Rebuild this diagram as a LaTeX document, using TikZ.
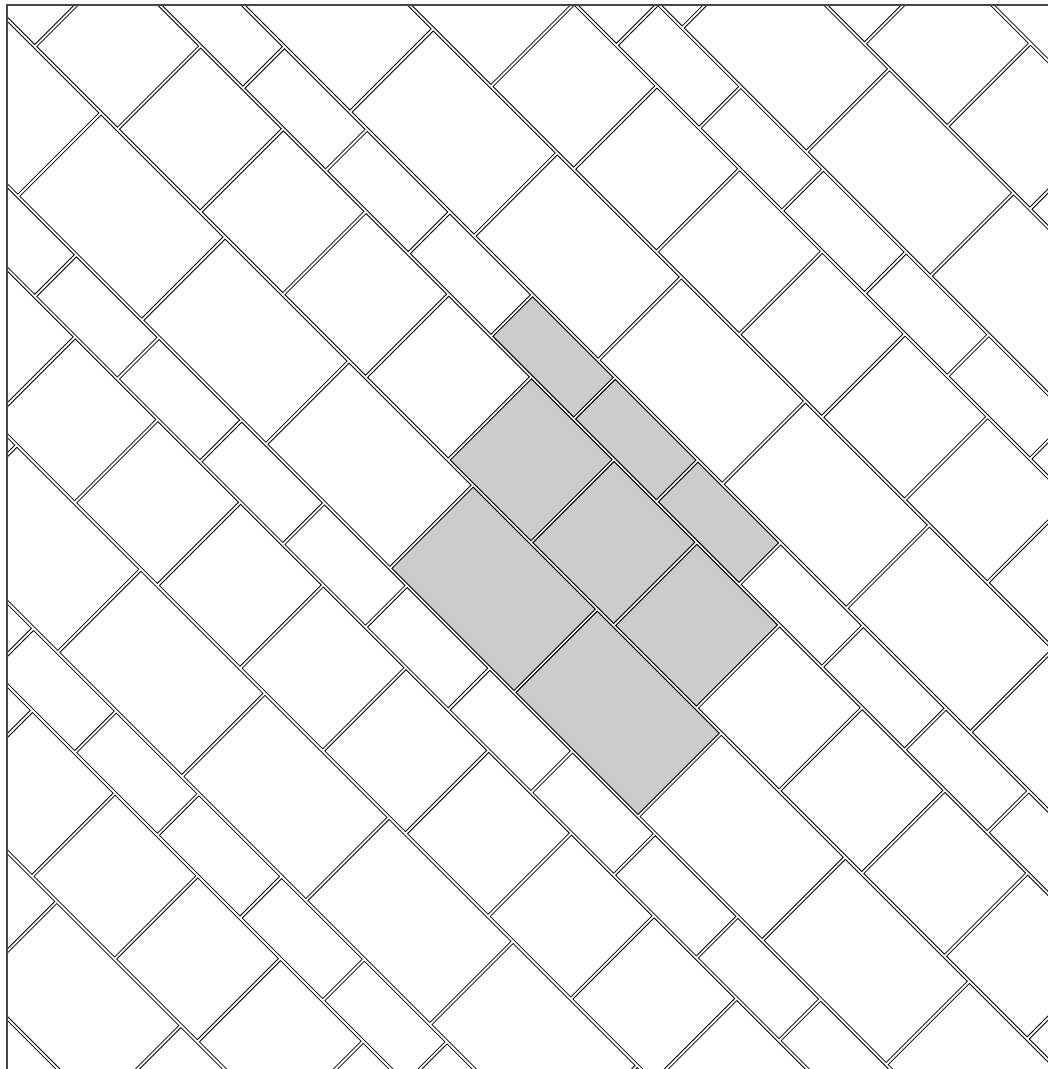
\documentclass[tikz,border=0pt]{standalone}
\usepackage{tikz}
\definecolor{tilegray}{RGB}{204,204,204}
\definecolor{framecol}{RGB}{70,70,70}
\newcommand\drawtile[5]{%
  \pgfmathsetmacro\tpa{#1+\ins}\pgfmathsetmacro\tpb{#2-\ins}%
  \pgfmathsetmacro\tqa{#3+\ins}\pgfmathsetmacro\tqb{#4-\ins}%
  \draw[#5] ({(\tpa+\tqa)/2},{(\tqa-\tpa)/2}) -- ({(\tpb+\tqa)/2},{(\tqa-\tpb)/2})
    -- ({(\tpb+\tqb)/2},{(\tqb-\tpb)/2}) -- ({(\tpa+\tqb)/2},{(\tqb-\tpa)/2}) -- cycle;%
}
\begin{document}
\begin{tikzpicture}[x=0.75pt,y=-0.75pt,
  tile/.style={draw=black,line width=0.6pt},
  graytile/.style={draw=black,line width=0.6pt,fill=tilegray}]
\useasboundingbox (0,0) rectangle (1047,1069);
\def\uP{83.26}\def\uQ{82.7}\def\cP{154.6}\def\ins{2.1}
\def\qC{827.3}\def\qB{81.3}\def\qA{710.2}
\begin{scope}
\clip (7,5) rectangle (1070,1090);
\foreach \k in {-3,...,2} {
  \pgfmathsetmacro\base{\cP+5*\uP*(\k)}
  \foreach \j in {-6,...,8} {\drawtile{\base}{\base+\uP}{\qC+2*\uQ*(\j)}{\qC+2*\uQ*(\j+1)}{tile}}
  \foreach \j in {-3,...,6} {\drawtile{\base+\uP}{\base+3*\uP}{\qA+3*\uQ*(\j)}{\qA+3*\uQ*(\j+1)}{tile}}
  \foreach \j in {-1,...,13} {\drawtile{\base+3*\uP}{\base+5*\uP}{\qB+2*\uQ*(\j)}{\qB+2*\uQ*(\j+1)}{tile}}
}
% highlighted fundamental block
\foreach \j in {0,1,2} {\drawtile{\cP}{\cP+\uP}{\qC+2*\uQ*(\j)}{\qC+2*\uQ*(\j+1)}{graytile}}
\foreach \j in {5,6,7} {\drawtile{\cP-2*\uP}{\cP}{\qB+2*\uQ*(\j)}{\qB+2*\uQ*(\j+1)}{graytile}}
\foreach \j in {1,2} {\drawtile{\cP-4*\uP}{\cP-2*\uP}{\qA+3*\uQ*(\j)}{\qA+3*\uQ*(\j+1)}{graytile}}
\end{scope}
\draw[framecol,line width=0.9pt] (7,1080) -- (7,5) -- (1070,5);
\end{tikzpicture}
\end{document}
